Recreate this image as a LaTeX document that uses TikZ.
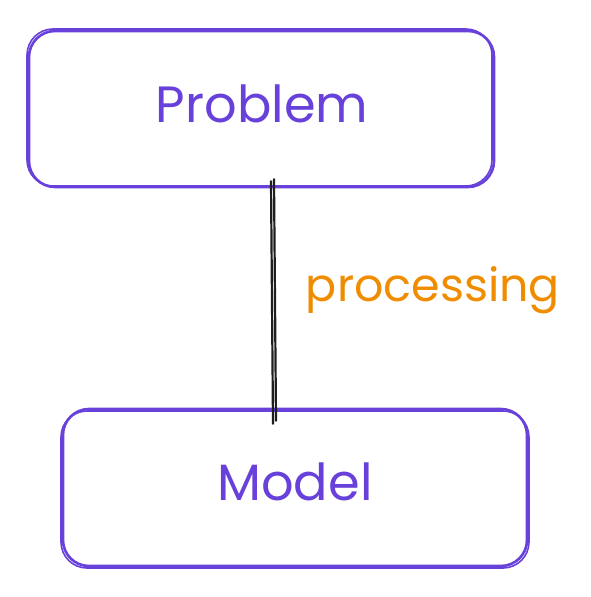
\documentclass[tikz,border=0pt]{standalone}
\usepackage{fontspec}
\setmainfont{Poppins}
\definecolor{violetx}{HTML}{6741D9}
\definecolor{orangex}{HTML}{F08C00}
\definecolor{inkx}{HTML}{1E1E1E}
\tikzset{
  boxstroke/.style={draw=violetx, line width=2.6pt, rounded corners=26pt},
  boxlabel/.style={text=violetx, font=\fontsize{51}{58}\selectfont},
  linkstroke/.style={draw=inkx, line width=2.2pt, line cap=round},
  linklabel/.style={text=orangex, font=\fontsize{46}{52}\selectfont}
}
\begin{document}
\begin{tikzpicture}[x=1pt,y=1pt]
\useasboundingbox (0,0) rectangle (590,-597);
% boxes (sketchy double strokes)
\draw[boxstroke] (29,-31) rectangle (494,-187);
\draw[boxstroke, line width=1.6pt] (27,-29) rectangle (492,-186);
\draw[boxstroke] (63,-409) rectangle (527,-566);
\draw[boxstroke, line width=1.6pt] (61,-411) rectangle (529,-568);
% nodes
\node[minimum width=466pt, minimum height=158pt] (p) at (261,-108) {};
\node[boxlabel] (pt) at (262,-104) {Problem};
\node[minimum width=466pt, minimum height=158pt] (m) at (295,-488) {};
\node[boxlabel] (mt) at (295,-482) {Model};
% connector
\draw[linkstroke] ([xshift=10pt,yshift=6pt]p.south) -- ([xshift=-22pt,yshift=-15pt]m.north);
\draw[linkstroke] ([xshift=13pt,yshift=8pt]p.south) -- ([xshift=-19pt,yshift=-12pt]m.north);
\node[linklabel] (lbl) at (433,-290) {processing};
\end{tikzpicture}
\end{document}
